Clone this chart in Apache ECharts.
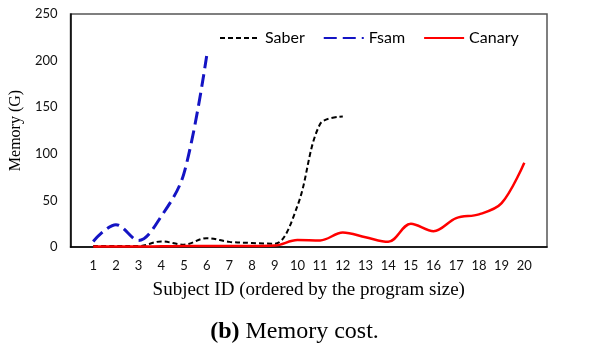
<!DOCTYPE html>
<html>
<head>
<meta charset="utf-8">
<script src="https://cdn.jsdelivr.net/npm/echarts@6/dist/echarts.min.js"></script>
<style>
html,body{margin:0;padding:0;background:#fff;}
#chart{width:589px;height:349px;}
</style>
</head>
<body>
<div id="chart"></div>
<script>
const subjects = [1,2,3,4,5,6,7,8,9,10,11,12,13,14,15,16,17,18,19,20];
const saber  = [1,1,1,6,2.5,9.5,5.5,4.3,3.5,44,132,140];
const fsam   = [6,24,7,33,79,205];
const canary = [0.5,0.5,0.5,0.8,1,1,1,1,1.5,7.5,7,15.5,10.5,5.5,25,17,31,35,47,90.5];
const yTicks = [0,50,100,150,200,250];

function pairs(vals){ return vals.map((v,i)=>[subjects[i], v]); }

const chart = echarts.init(document.getElementById('chart'));
const tickFont = {fontFamily:'Lato', fontSize:13, color:'#111'};
chart.setOption({
  animation:false,
  backgroundColor:'#fff',
  grid:{left:63, right:42, top:14, bottom:102, show:true, borderColor:'#555', borderWidth:1.5, backgroundColor:'transparent'},
  title:[{
    text:'{b|(b)} Memory cost.',
    left:'center', top:315,
    textStyle:{fontFamily:'Liberation Serif', fontSize:24, fontWeight:'normal', color:'#000',
      rich:{b:{fontFamily:'Liberation Serif', fontSize:24, fontWeight:'bold', color:'#000'}}}
  }],
  legend:{
    left:214, top:25, itemWidth:40, itemHeight:14, itemGap:18,
    itemStyle:{opacity:0},
    textStyle:{fontFamily:'Lato', fontSize:16, color:'#000'},
    data:['Saber','Fsam','Canary']
  },
  xAxis:{
    type:'value', min:0, max:21, interval:1,
    name:'Subject ID (ordered by the program size)', nameLocation:'middle', nameGap:34,
    nameTextStyle:{fontFamily:'Liberation Serif', fontSize:19, color:'#000'},
    axisLine:{show:true, lineStyle:{color:'#000', width:1.5}},
    axisTick:{show:false},
    splitLine:{show:false},
    axisLabel:Object.assign({margin:12, formatter:v=> (subjects.indexOf(v)>=0 ? String(v) : '')}, tickFont)
  },
  yAxis:{
    type:'value', min:0, max:250, interval:50,
    name:'Memory (G)', nameLocation:'middle', nameGap:33, nameRotate:90,
    nameTextStyle:{fontFamily:'Liberation Serif', fontSize:16, color:'#000'},
    axisLine:{show:true, lineStyle:{color:'#000', width:1.5}},
    axisTick:{show:false},
    splitLine:{show:false},
    axisLabel:Object.assign({margin:13, formatter:v=> (yTicks.indexOf(v)>=0 ? String(v) : '')}, tickFont)
  },
  series:[
    {name:'Saber', type:'line', data:pairs(saber), smooth:0.35, showSymbol:false, symbol:'none',
     itemStyle:{color:'#000'}, lineStyle:{color:'#000', width:2, type:[5,3]}, z:2},
    {name:'Fsam', type:'line', data:pairs(fsam), smooth:0.35, showSymbol:false, symbol:'none',
     itemStyle:{color:'#1414c4'}, lineStyle:{color:'#1414c4', width:3, type:[13,6]}, z:3},
    {name:'Canary', type:'line', data:pairs(canary), smooth:0.35, showSymbol:false, symbol:'none',
     itemStyle:{color:'#ff0000'}, lineStyle:{color:'#ff0000', width:2.5}, z:4}
  ]
});
</script>
</body>
</html>
